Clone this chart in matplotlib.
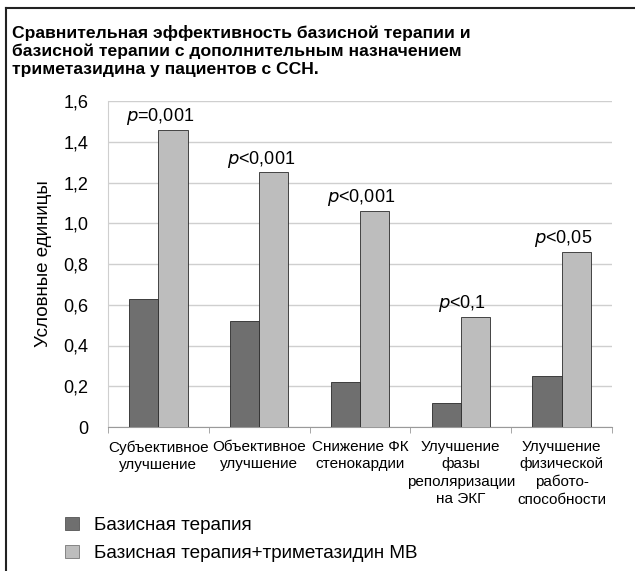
import matplotlib
matplotlib.use("Agg")
import matplotlib.pyplot as plt
import numpy as np
from matplotlib.lines import Line2D
from matplotlib.patches import Patch

# Data
categories = [
    "Субъективное\nулучшение",
    "Объективное\nулучшение",
    "Снижение ФК\nстенокардии",
    "Улучшение\nфазы\nреполяризации\nна ЭКГ",
    "Улучшение\nфизической\nработо-\nспособности",
]
basic = [0.63, 0.52, 0.22, 0.12, 0.25]
basic_tmz = [1.46, 1.25, 1.06, 0.54, 0.86]
p_labels = [("=", "0,001"), ("<", "0,001"), ("<", "0,001"), ("<", "0,1"), ("<", "0,05")]
series_names = ["Базисная терапия", "Базисная терапия+триметазидин МВ"]
yticks = [0, 0.2, 0.4, 0.6, 0.8, 1.0, 1.2, 1.4, 1.6]
ytick_labels = ["0", "0,2", "0,4", "0,6", "0,8", "1,0", "1,2", "1,4", "1,6"]
title_lines = [
    "Сравнительная эффективность базисной терапии и",
    "базисной терапии с дополнительным назначением",
    "триметазидина у пациентов с ССН.",
]

plt.rcParams['font.family'] = ['Liberation Sans', 'DejaVu Sans']

dark = "#6f6f6f"
light = "#bdbdbd"
edge = "#2a2a2a"

W, H = 635, 571
fig = plt.figure(figsize=(W / 100, H / 100), dpi=100)
ax = fig.add_axes([108 / W, 1 - 427 / H, 504 / W, 326 / H])

x = np.arange(len(categories))
w = 0.29
ax.bar(x - w / 2, basic, w, color=dark, edgecolor=edge, linewidth=0.6, zorder=3)
ax.bar(x + w / 2, basic_tmz, w, color=light, edgecolor=edge, linewidth=0.6, zorder=3)

for xi, yi, (sign, val) in zip(x, basic_tmz, p_labels):
    ax.annotate(r"$\it{p}$" + sign + val, (xi + w / 2 - 0.13, yi), xytext=(0, 2),
                textcoords="offset points", ha="center", va="bottom", fontsize=13)

ax.set_xlim(-0.5, len(categories) - 0.5)
ax.set_ylim(0, 1.6)
ax.set_yticks(yticks)
ax.set_yticklabels(ytick_labels, fontsize=13)
ax.tick_params(axis="y", length=0, pad=14)
ax.set_xticks(x)
ax.set_xticklabels(categories, fontsize=11, linespacing=1.3)
ax.tick_params(axis="x", length=0, pad=9.5)
# small ticks between groups
ax.set_xticks(np.arange(len(categories) + 1) - 0.5, minor=True)
ax.tick_params(axis="x", which="minor", length=4, color="#999999")

ax.yaxis.grid(True, color="#cfcfcf", linewidth=1.0, zorder=0)
for s in ["top", "right"]:
    ax.spines[s].set_visible(False)
ax.spines["left"].set_color("#cfcfcf")
ax.spines["bottom"].set_color("#9a9a9a")
ax.set_ylabel("Условные единицы", fontsize=13.5, labelpad=8)

# title, one line at a time (tight line spacing)
for i, line in enumerate(title_lines):
    fig.text(12 / W, 1 - (38 + 18 * i) / H, line, fontsize=12.6, fontweight="bold",
             va="baseline", ha="left")

handles = [Patch(facecolor=dark, edgecolor="#555555", linewidth=0.6),
           Patch(facecolor=light, edgecolor="#777777", linewidth=0.6)]
fig.legend(handles, series_names, loc="lower left", bbox_to_anchor=(0.075, -0.014),
           frameon=False, fontsize=13.6, handlelength=0.74, handleheight=0.74,
           labelspacing=0.55, handletextpad=0.8)

# frame lines (top and left) of the original figure box
fig.add_artist(Line2D([0.009, 1.0], [0.986, 0.986], color="#222222", linewidth=1.5,
                      transform=fig.transFigure))
fig.add_artist(Line2D([0.009, 0.009], [0.0, 0.986], color="#222222", linewidth=1.5,
                      transform=fig.transFigure))

fig.savefig("out.png", dpi=100)
